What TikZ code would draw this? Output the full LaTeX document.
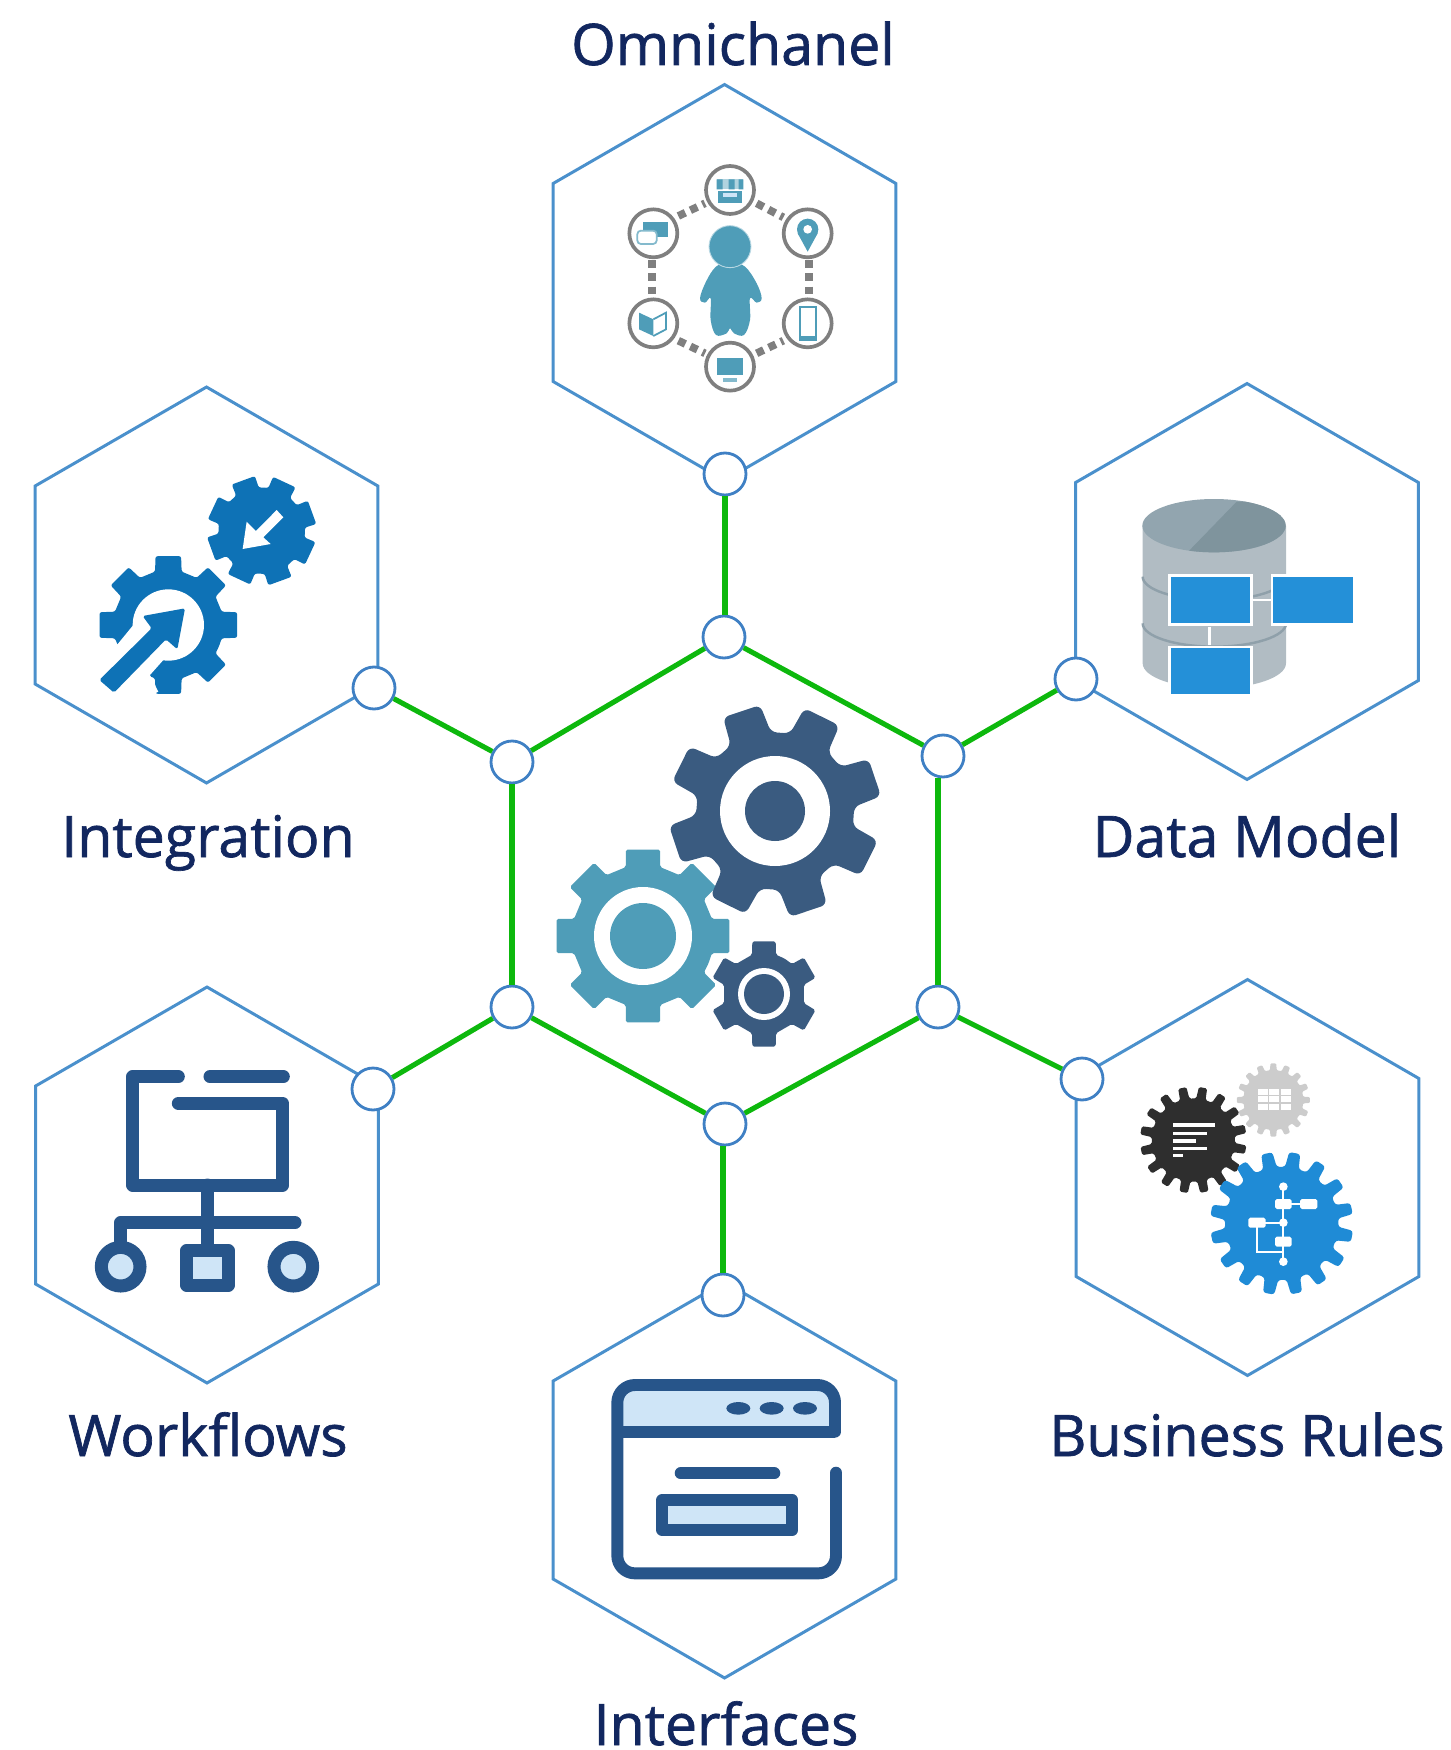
\documentclass[tikz,border=0pt]{standalone}
\usepackage{fontspec}
\setmainfont{Open Sans}[FakeBold=1.2]
\usetikzlibrary{shapes.geometric}
\definecolor{hexblue}{HTML}{4A90CC}
\definecolor{portblue}{HTML}{3F80C4}
\definecolor{linkgreen}{HTML}{0DB80D}
\definecolor{titleblue}{HTML}{12275F}
\definecolor{steel}{HTML}{3A5B80}
\definecolor{teal}{HTML}{4F9DB8}
\definecolor{navy}{HTML}{27558A}
\definecolor{paleblue}{HTML}{CFE5F7}
\definecolor{intblue}{HTML}{0E72B6}
\definecolor{ruleblue}{HTML}{1F8BD6}
\definecolor{boxblue}{HTML}{2490D8}
\definecolor{ringgray}{HTML}{7F7F7F}
\definecolor{cylbody}{HTML}{B1BCC3}
\definecolor{cyltop}{HTML}{92A5AF}
\definecolor{cyldark}{HTML}{7F949D}
\definecolor{cylband}{HTML}{8FA0AA}
\newcommand\gearshape[9]{%
 \path[#9] ({#1+#4*cos(#6-180/#5)},{#2-#4*sin(#6-180/#5)})
 \foreach \i [evaluate=\i as \a using #6+(\i-1)*360/#5] in {1,...,#5}{
   -- ({#1+#4*cos(\a-#8)},{#2-#4*sin(\a-#8)})
   -- ({#1+#3*cos(\a-#7)},{#2-#3*sin(\a-#7)})
   -- ({#1+#3*cos(\a+#7)},{#2-#3*sin(\a+#7)})
   -- ({#1+#4*cos(\a+#8)},{#2-#4*sin(\a+#8)})
 } -- cycle;}
\tikzset{
  hexcell/.style={shape=regular polygon,regular polygon sides=6,regular polygon rotate=30,
     minimum size=7.92cm,inner sep=0pt,outer sep=0pt,draw=hexblue,line width=1.7pt},
  port/.style={circle,draw=portblue,fill=white,line width=1.6pt,minimum size=0.84cm,inner sep=0pt},
  link/.style={draw=linkgreen,line width=2.9pt},
  caption/.style={text=titleblue,inner sep=0pt,anchor=base,font=\fontsize{32.6}{40}\selectfont},
  navyline/.style={draw=navy,line cap=round,line join=round},
  zoomO/.style={shift={(540,70)},scale=0.33333},
  ring/.style={draw=ringgray,fill=white,line width=2.1pt},
  dots/.style={draw=ringgray,line width=4.4pt,dash pattern=on 4.4pt off 3.2pt},
}
\begin{document}
\begin{tikzpicture}[x=0.02cm,y=-0.02cm]
\useasboundingbox (0,0) rectangle (1450,1750);
% hexagons
\node[hexcell] (hexO) at (724.5,282.5) {};
\node[hexcell] (hexD) at (1247,581.5) {};
\node[hexcell] (hexB) at (1247.5,1177.5) {};
\node[hexcell] (hexI) at (206.5,585) {};
\node[hexcell] (hexW) at (207,1185) {};
\node[hexcell] (hexF) at (724.5,1480) {};
% ports
\node[port] (pO) at (725,474) {};
\node[port] (pD) at (1076,679) {};
\node[port] (pB) at (1082,1079) {};
\node[port] (pI) at (374,688) {};
\node[port] (pW) at (373,1089) {};
\node[port] (pF) at (723,1295) {};
\node[port] (cT) at (724,637) {};
\node[port] (cUL) at (512,762) {};
\node[port] (cUR) at (943,756) {};
\node[port] (cLL) at (512,1007) {};
\node[port] (cLR) at (938,1007) {};
\node[port] (cB) at (725,1124) {};
% links
\draw[link] (cT)--(cUR);
\draw[link] (cLR |- cUR.south)--(cLR);
\draw[link] (cLR)--(cB);
\draw[link] (cB)--(cLL);
\draw[link] (cLL)--(cUL);
\draw[link] (cUL)--(cT);
\draw[link] (pO)--(pO |- cT.north);
\draw[link] (pF |- cB.south)--(pF);
\draw[link] (pI)--(cUL);
\draw[link] (pD)--(cUR);
\draw[link] (pW)--(cLL);
\draw[link] (pB)--(cLR);
% captions
\node[caption] (tO) at (733,65) {Omnichanel};
\node[caption] (tI) at (208,857) {Integration};
\node[caption] (tD) at (1247,857) {Data Model};
\node[caption] (tW) at (208,1456) {Workflows};
\node[caption] (tB) at (1247,1456) {Business Rules};
\node[caption] (tF) at (726,1745) {Interfaces};
% central gears
\gearshape{643}{936}{88}{71}{8}{0}{11.3}{14}{fill=teal,rounded corners=1pt}
\fill[white] (643,936) circle (49);
\fill[teal] (643,936) circle (33);
\gearshape{775}{811}{107}{79}{8}{18.5}{10.5}{15.5}{fill=steel,rounded corners=3.5pt}
\fill[white] (775,811) circle (55);
\fill[steel] (775,811) circle (30);
\gearshape{764}{994}{54}{41}{6}{90}{12.5}{17}{fill=steel,rounded corners=1pt}
\fill[white] (764,994) circle (26);
\fill[steel] (764,994) circle (20);
% Omnichanel icon
\begin{scope}[zoomO]
 \draw[dots] (415,438)--(495,400);
 \draw[dots] (650,400)--(730,442);
 \draw[dots] (808,570)--(808,680);
 \draw[dots] (335,570)--(335,680);
 \draw[dots] (415,812)--(495,850);
 \draw[dots] (650,850)--(730,812);
 \draw[ring] (570,360) circle (72);
 \draw[ring] (803,490) circle (72);
 \draw[ring] (803,760) circle (72);
 \draw[ring] (570,890) circle (72);
 \draw[ring] (340,760) circle (72);
 \draw[ring] (340,490) circle (72);
 \fill[teal] plot[smooth cycle,tension=0.6] coordinates {(570,575) (528,590) (498,635) (480,685) (495,698) (512,685) (512,750) (528,795) (560,790) (570,775) (582,790) (612,795) (630,750) (630,685) (650,698) (665,685) (650,640) (615,590)};
 \draw[fill=teal,draw=teal!40,line width=0.5pt] (570,530) circle (63);
 % store
 \fill[teal] (535,362) rectangle (605,398);
 \fill[teal!45] (530,328) rectangle (610,358);
 \fill[teal] (530,328) rectangle (548,358) (566,328) rectangle (584,358) (596,328) rectangle (610,358);
 \fill[paleblue] (548,368) rectangle (590,382);
 % pin
 \fill[teal] (803,478) circle (32);
 \fill[teal] (773,490) -- (803,545) -- (833,490) -- cycle;
 \fill[white] (803,478) circle (13);
 % phone
 \draw[teal,line width=1pt] (779,710) rectangle (829,810);
 \fill[teal] (779,797) rectangle (829,810);
 % monitor
 \fill[teal] (530,865) rectangle (610,915);
 \fill[teal!70] (550,925) rectangle (590,936);
 % book
 \fill[teal] (297,728) -- (340,748) -- (340,798) -- (297,778) -- cycle;
 \draw[teal,line width=1pt] (340,748) -- (378,728) -- (378,778) -- (340,798);
 % chat
 \fill[teal] (308,455) rectangle (385,500);
 \draw[teal!70,fill=white,line width=1pt,rounded corners=2pt] (292,482) rectangle (350,522);
\end{scope}
% Data Model icon
\begin{scope}[shift={(1060,380)},scale=0.33333]
 \fill[cylbody] (248,437) -- (248,850) arc[start angle=180,end angle=0,x radius=215,y radius=75] -- (678,437) -- cycle;
 \draw[cylband,line width=1.4pt] (248,590) arc[start angle=180,end angle=0,x radius=215,y radius=70];
 \draw[cylband,line width=1.4pt] (248,730) arc[start angle=180,end angle=0,x radius=215,y radius=70];
 \fill[cyltop] (462,437) ellipse[x radius=215,y radius=80];
 \begin{scope}
  \clip (462,437) ellipse[x radius=215,y radius=80];
  \fill[cyldark] (370,530) -- (530,365) -- (700,365) -- (700,530) -- cycle;
 \end{scope}
 \draw[white,line width=1.4pt] (572,660)--(638,660);
 \draw[white,line width=1.4pt] (448,740)--(448,795);
 \draw[fill=boxblue,draw=white,line width=1.4pt] (328,586) rectangle (574,734);
 \draw[fill=boxblue,draw=white,line width=1.4pt] (636,586) rectangle (882,734);
 \draw[fill=boxblue,draw=white,line width=1.4pt] (328,801) rectangle (574,947);
\end{scope}
% Integration icon
\begin{scope}[shift={(20,380)},scale=0.33333]
 \gearshape{725}{452}{165}{130}{8}{20}{13}{16}{fill=intblue,rounded corners=1.2pt}
 \fill[white] (668,507) -- (680,425) -- (708,453) -- (770,390) -- (790,412) -- (730,472) -- (752,492) -- cycle;
 \gearshape{445}{735}{210}{165}{8}{0}{10.5}{14}{fill=intblue,rounded corners=1.2pt}
 \fill[white] (445,735) circle (107);
 \fill[white] (340,735) -- (295,790) -- (180,905) -- (290,1000) -- (415,935) -- (390,885) -- (430,840) -- cycle;
 \fill[intblue,rounded corners=1pt] (238,900) -- (395,745) -- (368,708) -- (495,685) -- (472,808) -- (438,778) -- (282,938) -- cycle;
\end{scope}
% Workflows icon
\begin{scope}[shift={(30,1000)},scale=0.33333]
 \draw[navyline,line width=7.4pt] (445,230) -- (308,230) -- (308,555) -- (758,555) -- (758,310) -- (445,310);
 \draw[navyline,line width=7.4pt] (540,230) -- (760,230);
 \draw[navyline,line width=7.4pt] (533,555) -- (533,745);
 \draw[navyline,line width=7.4pt] (795,668) -- (272,668) -- (272,740);
 \draw[navy,fill=paleblue,line width=7.4pt] (272,800) circle (58);
 \draw[navy,fill=paleblue,line width=7.4pt] (790,800) circle (58);
 \draw[navyline,fill=paleblue,line width=7.4pt] (470,752) rectangle (595,855);
\end{scope}
% Interfaces icon
\begin{scope}[shift={(560,1340)},scale=0.33333]
 \fill[paleblue] (172,275) -- (172,175) -- (205,135) -- (790,135) -- (825,175) -- (825,275) -- cycle;
 \draw[navyline,line width=6.8pt,rounded corners=10pt] (828,398) -- (828,700) -- (172,700) -- (172,135) -- (825,135) -- (825,275);
 \draw[navyline,line width=6.8pt,line cap=butt] (825,275) -- (172,275);
 \fill[navy] (535,205) ellipse[x radius=36,y radius=19];
 \fill[navy] (635,205) ellipse[x radius=36,y radius=19];
 \fill[navy] (735,205) ellipse[x radius=36,y radius=19];
 \draw[navyline,line width=6.8pt] (362,400) -- (643,400);
 \draw[navyline,fill=paleblue,line width=6.8pt] (307,480) rectangle (697,570);
\end{scope}
% Business Rules icon
\begin{scope}[shift={(1060,960)},scale=0.33333]
 \gearshape{640}{420}{110}{90}{16}{0}{4.5}{6.5}{fill=black!20,rounded corners=0.6pt}
 \foreach \cx in {610,643,678} \foreach \cy in {395,418,442} {\fill[white] (\cx-15,\cy-9) rectangle (\cx+15,\cy+9);}
 \gearshape{400}{540}{160}{125}{16}{12}{4.5}{6.5}{fill=black!82,rounded corners=0.9pt}
 \draw[white,line width=2pt] (340,495)--(466,495) (340,520)--(440,520) (340,543)--(408,543) (340,565)--(440,565) (340,587)--(370,587);
 \gearshape{665}{790}{215}{170}{16}{12}{4.5}{7}{fill=ruleblue,rounded corners=1.6pt}
 \draw[white,line width=1.1pt] (670,680)--(670,905) (590,788)--(670,788) (670,732)--(745,732);
 \draw[white,line width=1.1pt] (590,800)--(590,875)--(670,875);
 \fill[white] (670,680) circle (13);
 \fill[white] (670,905) circle (13);
 \fill[white] (670,788) circle (13);
 \fill[white,rounded corners=1pt] (645,717) rectangle (695,747);
 \fill[white,rounded corners=1pt] (720,717) rectangle (772,747);
 \fill[white,rounded corners=1pt] (565,773) rectangle (617,803);
 \fill[white,rounded corners=1pt] (645,830) rectangle (695,860);
\end{scope}
\end{tikzpicture}
\end{document}
